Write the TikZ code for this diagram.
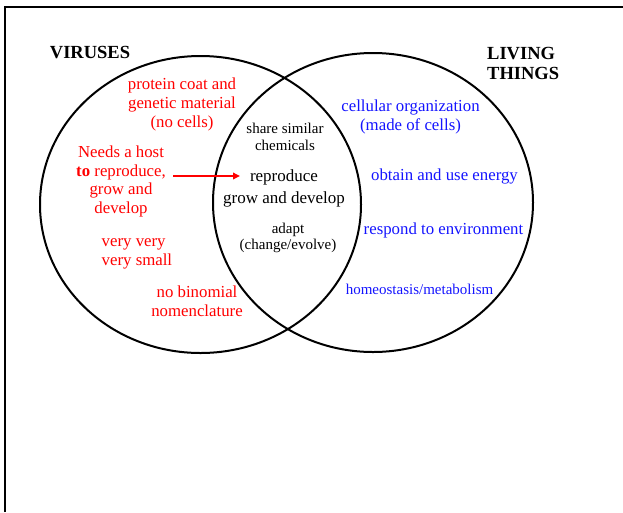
\documentclass[tikz,border=0pt]{standalone}
\usepackage{fontspec}
\setmainfont{Liberation Serif}
\usetikzlibrary{shapes.geometric,arrows.meta}
\definecolor{vred}{RGB}{255,0,0}
\definecolor{lblue}{RGB}{20,20,255}
\tikzset{
  venn/.style={ellipse, draw=black, line width=2pt, inner sep=0pt},
  title/.style={font=\fontsize{18.5}{20}\selectfont\bfseries, text=black, inner sep=0pt},
  redtxt/.style={font=\fontsize{16.8}{18.8}\selectfont, text=vred, align=center, inner sep=0pt},
  bluetxt/.style={font=\fontsize{16.8}{19}\selectfont, text=lblue, align=center, inner sep=0pt},
  smalltxt/.style={font=\fontsize{15}{17}\selectfont, align=center, inner sep=0pt},
  arr/.style={vred, line width=2pt, -{Triangle[length=7pt,width=6.5pt]}},
}
\begin{document}
\begin{tikzpicture}[x=1pt,y=-1pt]
\useasboundingbox (0,0) rectangle (623,512);
\draw[line width=2pt] (5,512) -- (5,7) -- (623,7);
\node[venn, minimum width=321, minimum height=297] (vir) at (200.5,204.5) {};
\node[venn, minimum width=320, minimum height=299] (liv) at (373,202.5) {};
\node[title] (vt) at (90,53) {VIRUSES};
\node[title, align=left, anchor=west, font=\fontsize{18.5}{20}\selectfont\bfseries] (lt) at (487,63.5) {LIVING\\THINGS};
\node[redtxt] (prot) at (182,104.5) {protein coat and\\genetic material\\(no cells)};
\node[redtxt] (needs) at (121,181.5) {Needs a host\\\textbf{to} reproduce,\\grow and\\develop};
\node[redtxt, align=left, anchor=west] (small) at (101.5,253.5) {very very\\very small};
\node[redtxt] (binom) at (197,301) {no binomial\\nomenclature};
\node[smalltxt] (share) at (285,136.5) {share similar\\chemicals};
\node[font=\fontsize{17}{22}\selectfont, align=center, inner sep=0pt] (repro) at (284,188) {reproduce\\grow and develop};
\node[smalltxt, font=\fontsize{15}{16.5}\selectfont] (adapt) at (288,238) {adapt\\(change/evolve)};
\node[bluetxt] (cell) at (410.5,116.5) {cellular organization\\(made of cells)};
\node[bluetxt] (energy) at (444.5,176) {obtain and use energy};
\node[bluetxt] (resp) at (443.5,230) {respond to environment};
\node[bluetxt, font=\fontsize{15}{17}\selectfont] (homeo) at (419.5,289.5) {homeostasis/metabolism};
\coordinate (arrS) at (173,176);
\coordinate (arrE) at (240,176);
\draw[arr] (arrS) -- (arrE);
\end{tikzpicture}
\end{document}
